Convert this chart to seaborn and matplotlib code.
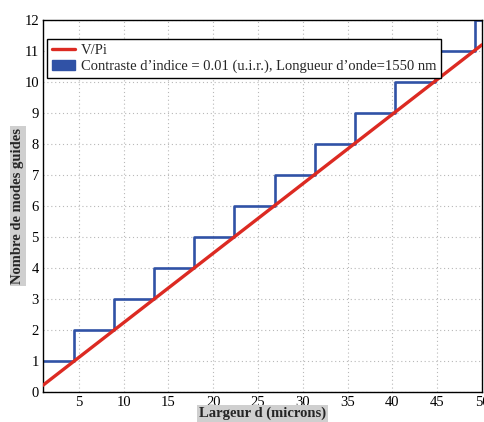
import numpy as np
import pandas as pd
import matplotlib
matplotlib.use('Agg')
import matplotlib.pyplot as plt
import seaborn as sns
from matplotlib.lines import Line2D
from matplotlib.patches import Patch

# step edges of the guided-mode count (microns) and the count on each step
step_x = [1, 4.47, 8.95, 13.42, 17.9, 22.37, 26.85, 31.32, 35.8, 40.27, 44.74, 49.22, 50]
step_n = [1, 2, 3, 4, 5, 6, 7, 8, 9, 10, 11, 12, 12]

# V/Pi straight line end points
vpi_x = [1, 50]
vpi_y = [0.22, 11.2]

red = '#dc2a22'
blue = '#3052a6'

sns.set_style('white')
plt.rcParams['font.family'] = ['Liberation Serif', 'DejaVu Serif']

fig = plt.figure(figsize=(4.85, 4.22), dpi=100)
ax = fig.add_axes([0.0887, 0.071, 0.905, 0.8816])

steps = pd.DataFrame({'d': step_x, 'n': step_n})
line = pd.DataFrame({'d': vpi_x, 'v': vpi_y})

sns.lineplot(data=line, x='d', y='v', color=red, linewidth=2.4, ax=ax, zorder=3)
sns.lineplot(data=steps, x='d', y='n', color=blue, linewidth=1.9, ax=ax,
             drawstyle='steps-post', zorder=2)

ax.set_xlim(1, 50)
ax.set_ylim(0, 12)
ax.set_xticks([5, 10, 15, 20, 25, 30, 35, 40, 45, 50])
ax.set_yticks(range(0, 13))
ax.grid(True, linestyle=(0, (1, 2.5)), color='#b8b8b8', linewidth=0.8)
ax.tick_params(direction='in', length=4, labelsize=10.5, colors='black', pad=3)
for s in ax.spines.values():
    s.set_color('black')
    s.set_linewidth(1.0)

box = dict(facecolor='#cfcfcf', edgecolor='none', pad=1.2)
ax.set_xlabel('Largeur d (microns)', fontsize=10.5, fontweight='bold', bbox=box, labelpad=-2)
ax.set_ylabel('Nombre de modes guides', fontsize=10.5, fontweight='bold', bbox=box, labelpad=0)

handles = [Line2D([], [], color=red, linewidth=2.4),
           Patch(facecolor=blue, edgecolor=blue)]
labels = ['V/Pi', 'Contraste d\u2019indice = 0.01 (u.i.r.), Longueur d\u2019onde=1550 nm']
ax.legend(handles, labels, loc='upper left', bbox_to_anchor=(0.0, 0.96),
          fontsize=10.5, frameon=True, fancybox=False, edgecolor='black',
          framealpha=1, borderpad=0.3, handlelength=1.6, handletextpad=0.4,
          labelspacing=0.2, borderaxespad=0.3)

fig.savefig('out.png', dpi=100)
